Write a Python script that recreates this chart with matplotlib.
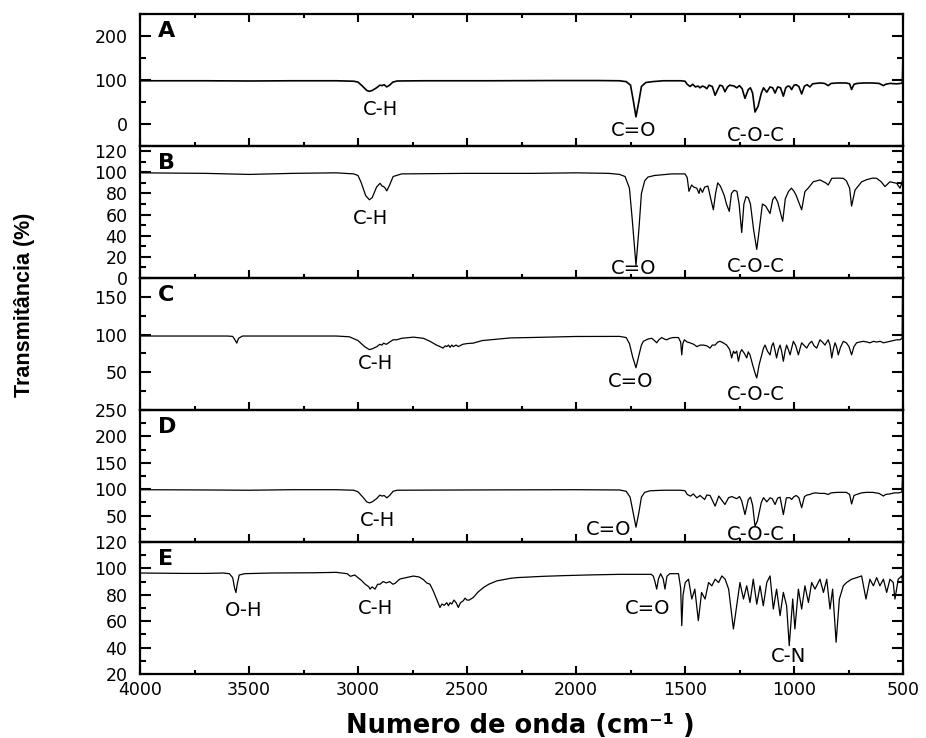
import matplotlib
matplotlib.use("Agg")
import matplotlib.pyplot as plt
from matplotlib.ticker import MultipleLocator, FixedLocator, NullFormatter

plt.rcParams['font.family'] = ['DejaVu Sans']

# ---------------- data (wavenumber cm-1, transmittance %) ----------------
A_wn = [4000, 3700, 3500, 3300, 3100, 3020, 3000, 2980, 2960, 2948, 2935, 2915, 2900, 2890, 2880, 2868, 2855, 2840, 2820,
        2700, 2400, 2100, 1900, 1800, 1770, 1750, 1738, 1725, 1712, 1700, 1680, 1650, 1600, 1520, 1500, 1490, 1477, 1465,
        1452, 1440, 1431, 1420, 1410, 1400, 1390, 1375, 1362, 1350, 1340, 1328, 1317, 1305, 1295, 1285, 1275, 1263, 1250,
        1238, 1225, 1210, 1200, 1190, 1179, 1165, 1150, 1140, 1125, 1110, 1098, 1087, 1075, 1062, 1049, 1038, 1028, 1020,
        1011, 1000, 990, 978, 965, 952, 940, 927, 915, 900, 880, 860, 843, 830, 800, 760, 745, 736, 725, 710, 680, 640,
        610, 598, 590, 580, 560, 530, 510, 503, 501, 500]
A_t = [98, 98, 97.5, 98, 98, 97, 95, 86, 76, 74, 76, 82, 88, 87, 89, 84, 88, 95, 97.5,
       98, 98, 98.5, 98.5, 98, 96, 88, 55, 16, 50, 85, 94, 96, 98, 98, 97, 90, 85, 90,
       84, 86, 82, 86, 84, 80, 88, 85, 65, 78, 88, 86, 73, 84, 88, 87, 86, 82, 87,
       80, 58, 78, 82, 70, 27, 40, 70, 82, 72, 84, 82, 70, 84, 82, 63, 82, 86, 85,
       78, 88, 89, 85, 68, 86, 89, 84, 91, 92, 93, 92, 87, 92, 93, 93, 91, 78, 90, 92, 93, 93,
       92, 89, 87, 90, 92, 91, 92, 93, 138, 138]

B_wn = [4000, 3700, 3500, 3300, 3100, 3020, 3000, 2985, 2965, 2948, 2935, 2915, 2899, 2890, 2883, 2875, 2868, 2855, 2839,
        2800, 2500, 2200, 2000, 1850, 1800, 1775, 1755, 1742, 1725, 1712, 1700, 1685, 1670, 1640, 1560, 1500, 1490, 1482,
        1470, 1460, 1446, 1436, 1430, 1420, 1410, 1395, 1382, 1370, 1360, 1350, 1338, 1320, 1310, 1297, 1287, 1275, 1262,
        1252, 1240, 1230, 1220, 1210, 1200, 1185, 1171, 1160, 1145, 1130, 1110, 1098, 1088, 1075, 1052, 1040, 1025, 1012,
        1000, 990, 965, 950, 935, 912, 881, 855, 843, 827, 800, 774, 760, 745, 736, 720, 713, 690, 667, 640, 621, 600,
        583, 560, 529, 514, 505, 501, 500]
B_t = [99.5, 99, 98, 99, 99.5, 98.5, 97, 90, 78, 74, 76, 86, 89.6, 87, 86.5, 85, 82.4, 88, 96,
       98.5, 99, 99, 99.5, 99, 98, 96, 85, 55, 12, 45, 80, 92, 95.5, 97, 98.5, 98.5, 95, 82,
       88, 86, 85, 80, 85, 81, 86, 87, 75, 64.5, 80, 90, 87, 78, 70, 63, 80, 83, 82,
       70, 43, 70, 77, 76, 70, 45, 27, 45, 70, 68, 61, 74, 77, 72, 53.6, 75, 82, 85,
       82, 78, 64.5, 81.8, 85, 91, 92.8, 90, 88, 94.3, 94.5, 94.3, 92, 85, 68, 83.3, 85, 91, 93, 94.5, 94.3, 91,
       86.5, 91, 89.6, 85, 90, 95, 82]

C_wn = [4000, 3800, 3600, 3575, 3565, 3556, 3548, 3530, 3300, 3100, 3040, 3000, 2970, 2948, 2935, 2913, 2900, 2890, 2883,
        2870, 2860, 2839, 2822, 2800, 2746, 2700, 2670, 2640, 2624, 2610, 2600, 2593, 2585, 2578, 2570, 2563, 2550, 2540,
        2520, 2500, 2471, 2430, 2394, 2300, 2211, 2000, 1905, 1800, 1770, 1755, 1740, 1725, 1712, 1700, 1691, 1670, 1653,
        1640, 1630, 1620, 1607, 1595, 1584, 1570, 1554, 1530, 1520, 1515, 1510, 1503, 1490, 1477, 1460, 1446, 1430, 1416,
        1400, 1385, 1375, 1362, 1350, 1339, 1325, 1309, 1295, 1286, 1278, 1271, 1263, 1255, 1247, 1240, 1228, 1217, 1210,
        1202, 1190, 1178, 1171, 1160, 1148, 1140, 1133, 1122, 1110, 1102, 1095, 1088, 1080, 1072, 1064, 1057, 1049, 1041,
        1034, 1026, 1018, 1010, 1003, 992, 980, 972, 965, 955, 942, 930, 919, 908, 896, 888, 881, 870, 858, 850, 843, 835,
        827, 820, 812, 805, 797, 787, 774, 760, 748, 736, 725, 713, 700, 682, 665, 652, 635, 621, 605, 590, 575, 560, 545,
        529, 514, 504, 502, 500]
C_t = [98, 98, 98, 97.5, 93, 88.6, 95, 98, 98, 98, 97, 92, 84, 80, 81, 84, 87, 86, 88.5,
       87, 89, 93, 93, 95, 96.5, 95, 91, 86, 84, 82, 85, 84, 86, 83, 86, 84, 86, 84,
       87, 88, 88.6, 92, 93, 95.5, 96, 97.4, 97.4, 97.5, 96, 88, 70, 56, 72, 86, 91, 94, 95,
       92, 89, 93, 96, 94, 93, 95, 96, 96, 90, 73, 88, 93, 90, 89, 87, 84, 86, 86,
       85, 82, 86, 86, 90, 91, 89, 86, 80, 69, 78, 75, 78, 64.5, 76, 80, 75, 69, 77,
       73, 60, 48, 42.5, 60, 73, 82, 86, 78, 73, 85, 89, 80, 69, 80, 86, 78, 64.5, 78,
       86, 80, 73, 83, 91, 85, 73, 82, 89, 86, 82, 88, 91, 85, 82, 88, 93, 90, 86, 90, 93, 86,
       69, 80, 89, 84, 73, 83, 91, 89, 84, 73, 84, 89, 90, 91, 90, 89, 91, 90, 91, 89, 90, 91, 92,
       93, 93, 95, 170, 170]

D_wn = [4000, 3700, 3500, 3300, 3100, 3020, 3000, 2980, 2960, 2948, 2935, 2915, 2900, 2890, 2880, 2868, 2855, 2839, 2820,
        2500, 2000, 1800, 1770, 1752, 1740, 1725, 1712, 1700, 1685, 1660, 1600, 1520, 1500, 1490, 1475, 1462, 1446, 1431,
        1410, 1400, 1385, 1362, 1345, 1317, 1300, 1285, 1263, 1250, 1240, 1225, 1210, 1200, 1190, 1179, 1168, 1150, 1140,
        1125, 1110, 1100, 1087, 1075, 1064, 1049, 1035, 1020, 1011, 1000, 990, 978, 965, 952, 940, 927, 915, 900, 880,
        860, 843, 830, 800, 760, 745, 736, 725, 713, 690, 667, 640, 610, 598, 590, 580, 560, 540, 520, 510, 505, 502, 500]
D_t = [99, 98.5, 98, 99, 99, 98, 95, 86, 76, 74, 76, 82, 88.7, 87, 88, 83.6, 88, 96, 98,
       98.5, 99, 98.5, 96, 85, 60, 28, 55, 85, 94, 97, 98, 98, 97, 90, 86.8, 91, 83.6, 88,
       80.5, 89, 88, 68, 87, 71, 84, 86, 82, 86, 78, 52, 80, 85, 70, 30, 40, 75, 84,
       76, 83.6, 82, 71, 83, 85, 52, 83.6, 84, 80.5, 86, 88, 84, 64.8, 86, 89, 90, 92, 93, 92,
       92, 90, 93, 94, 94, 90, 72, 88, 90, 93, 94, 94, 92, 89, 87, 90, 91, 93, 93, 94, 95, 130, 130]

E_wn = [4000, 3800, 3700, 3620, 3590, 3575, 3566, 3560, 3554, 3545, 3520, 3400, 3200, 3100, 3050, 3035, 3029, 3015, 3000,
        2985, 2967, 2950, 2945, 2935, 2922, 2910, 2899, 2885, 2870, 2855, 2840, 2830, 2815, 2807, 2780, 2746, 2720, 2700,
        2685, 2670, 2655, 2640, 2624, 2615, 2605, 2593, 2585, 2578, 2570, 2560, 2550, 2540, 2530, 2517, 2509, 2500, 2490,
        2471, 2450, 2425, 2400, 2364, 2300, 2272, 2150, 2059, 1950, 1800, 1700, 1655, 1645, 1638, 1630, 1622, 1612, 1600,
        1592, 1583, 1570, 1540, 1530, 1520, 1515, 1509, 1499, 1484, 1469, 1455, 1439, 1424, 1408, 1392, 1377, 1362, 1346,
        1331, 1316, 1300, 1278, 1263, 1248, 1232, 1217, 1202, 1187, 1171, 1156, 1141, 1125, 1110, 1095, 1080, 1064, 1049,
        1034, 1022, 1006, 996, 980, 965, 950, 934, 919, 904, 881, 865, 850, 835, 823, 807, 792, 774, 759, 736, 713, 690,
        670, 652, 636, 621, 606, 590, 575, 560, 545, 537, 522, 506, 502, 501, 500]
E_t = [96.5, 96.2, 96.2, 96.5, 96, 93, 85, 81.7, 88, 95, 96, 96.5, 96.7, 97, 96, 94, 94.3, 95, 93,
       91, 88, 86, 84.3, 86, 84.3, 88, 88, 90, 89, 90, 88, 88.7, 91, 92, 93, 94.2, 93.5, 91.5,
       89, 88, 83, 77, 70.4, 73, 72, 74, 71.7, 74, 73, 76, 74, 70.4, 74, 75.5, 77.5, 76, 76,
       78, 82, 85.5, 88, 90.5, 92.5, 93, 94, 94.5, 95, 95.5, 95.5, 95.5, 94, 90, 84.3, 92, 96, 92,
       84.3, 94, 96, 96, 96, 85, 56.6, 80, 89.3, 91.8, 76.8, 84.3, 60.4, 81.8, 76.8, 89.3, 86.8, 91.8, 89.3,
       94.3, 91.8, 84.3, 54.1, 71.7, 89.3, 76.8, 86.8, 74.2, 91.8, 72.9, 86.8, 71.7, 89.3, 94.3, 69.2, 84.3, 64.2, 81.8,
       71.7, 41.5, 76.8, 54.1, 84.3, 69.2, 86.8, 74.2, 89.3, 84.3, 91.8, 81.8, 91.8, 69.2, 84.3, 44.1, 76.8, 86.8, 89.3, 91.8, 93, 94.3,
       76.8, 91.8, 86.8, 93, 86.8, 91.8, 81.8, 91.8, 89.3, 76.8, 91.8, 94.3, 90, 60, 60]

panel_letters = ["A", "B", "C", "D", "E"]
ylims = [(-50, 250), (0, 125), (0, 175), (0, 250), (20, 120)]
y_major = [[0, 100, 200], [0, 20, 40, 60, 80, 100, 120], [50, 100, 150], [50, 100, 150, 200, 250],
           [20, 40, 60, 80, 100, 120]]
y_minor_step = [50, 10, 25, 25, 10]

labels = [
    [("C-H", 2899, 32), ("C=O", 1734, -14), ("C-O-C", 1174, -27)],
    [("C-H", 2945, 56), ("C=O", 1734, 9), ("C-O-C", 1174, 11)],
    [("C-H", 2918, 62), ("C=O", 1748, 38), ("C-O-C", 1174, 20)],
    [("C-H", 2911, 40), ("C=O", 1849, 24), ("C-O-C", 1174, 14)],
    [("O-H", 3527, 68), ("C-H", 2918, 70), ("C=O", 1670, 70), ("C-N", 1027, 33)],
]

series = [(A_wn, A_t), (B_wn, B_t), (C_wn, C_t), (D_wn, D_t), (E_wn, E_t)]

# ---------------- figure ----------------
fig = plt.figure(figsize=(9.26, 7.38), dpi=100)
left, width, h = 0.1512, 0.8240, 0.1789
bottom0 = 0.0867

for i, ((wn, t), letter) in enumerate(zip(series, panel_letters)):
    b = bottom0 + (4 - i) * h
    ax = fig.add_axes([left, b, width, h])
    ax.set_facecolor('none')
    ax.plot(wn, t, color='black', lw=1.2 if i == 0 else 0.9)
    ax.set_xlim(4000, 500)
    ax.set_ylim(*ylims[i])
    ax.xaxis.set_major_locator(MultipleLocator(500))
    ax.xaxis.set_minor_locator(MultipleLocator(250))
    ax.yaxis.set_major_locator(FixedLocator(y_major[i]))
    ax.yaxis.set_minor_locator(MultipleLocator(y_minor_step[i]))
    ax.tick_params(axis='both', which='both', direction='in', left=True, right=True,
                   bottom=True, top=(i == 0), labelsize=12.5)
    ax.tick_params(axis='y', which='major', length=8, width=1.5, pad=9)
    ax.tick_params(axis='y', which='minor', length=4.5, width=1.5)
    ax.tick_params(axis='x', which='major', length=5.5, width=1.5, pad=5)
    ax.tick_params(axis='x', which='minor', length=3, width=1.5)
    if i < 4:
        ax.xaxis.set_major_formatter(NullFormatter())
    for sp in ax.spines.values():
        sp.set_linewidth(1.6)
    ax.text(0.024, 0.87, letter, transform=ax.transAxes, fontsize=16, fontweight='bold',
            ha='left', va='center')
    for txt, x, y in labels[i]:
        ax.text(x, y, txt, fontsize=14, ha='center', va='center', clip_on=False)

fig.text(25 / 926, 1 - 305 / 738, "Transmitância (%)", rotation=90, ha='center', va='center',
         fontsize=15.5, fontweight='bold', family=['Liberation Sans', 'DejaVu Sans'])
fig.text(520 / 926, 1 - 726 / 738, "Numero de onda (cm⁻¹ )", ha='center', va='center',
         fontsize=18.5, fontweight='bold')

fig.savefig("out.png", dpi=100)
